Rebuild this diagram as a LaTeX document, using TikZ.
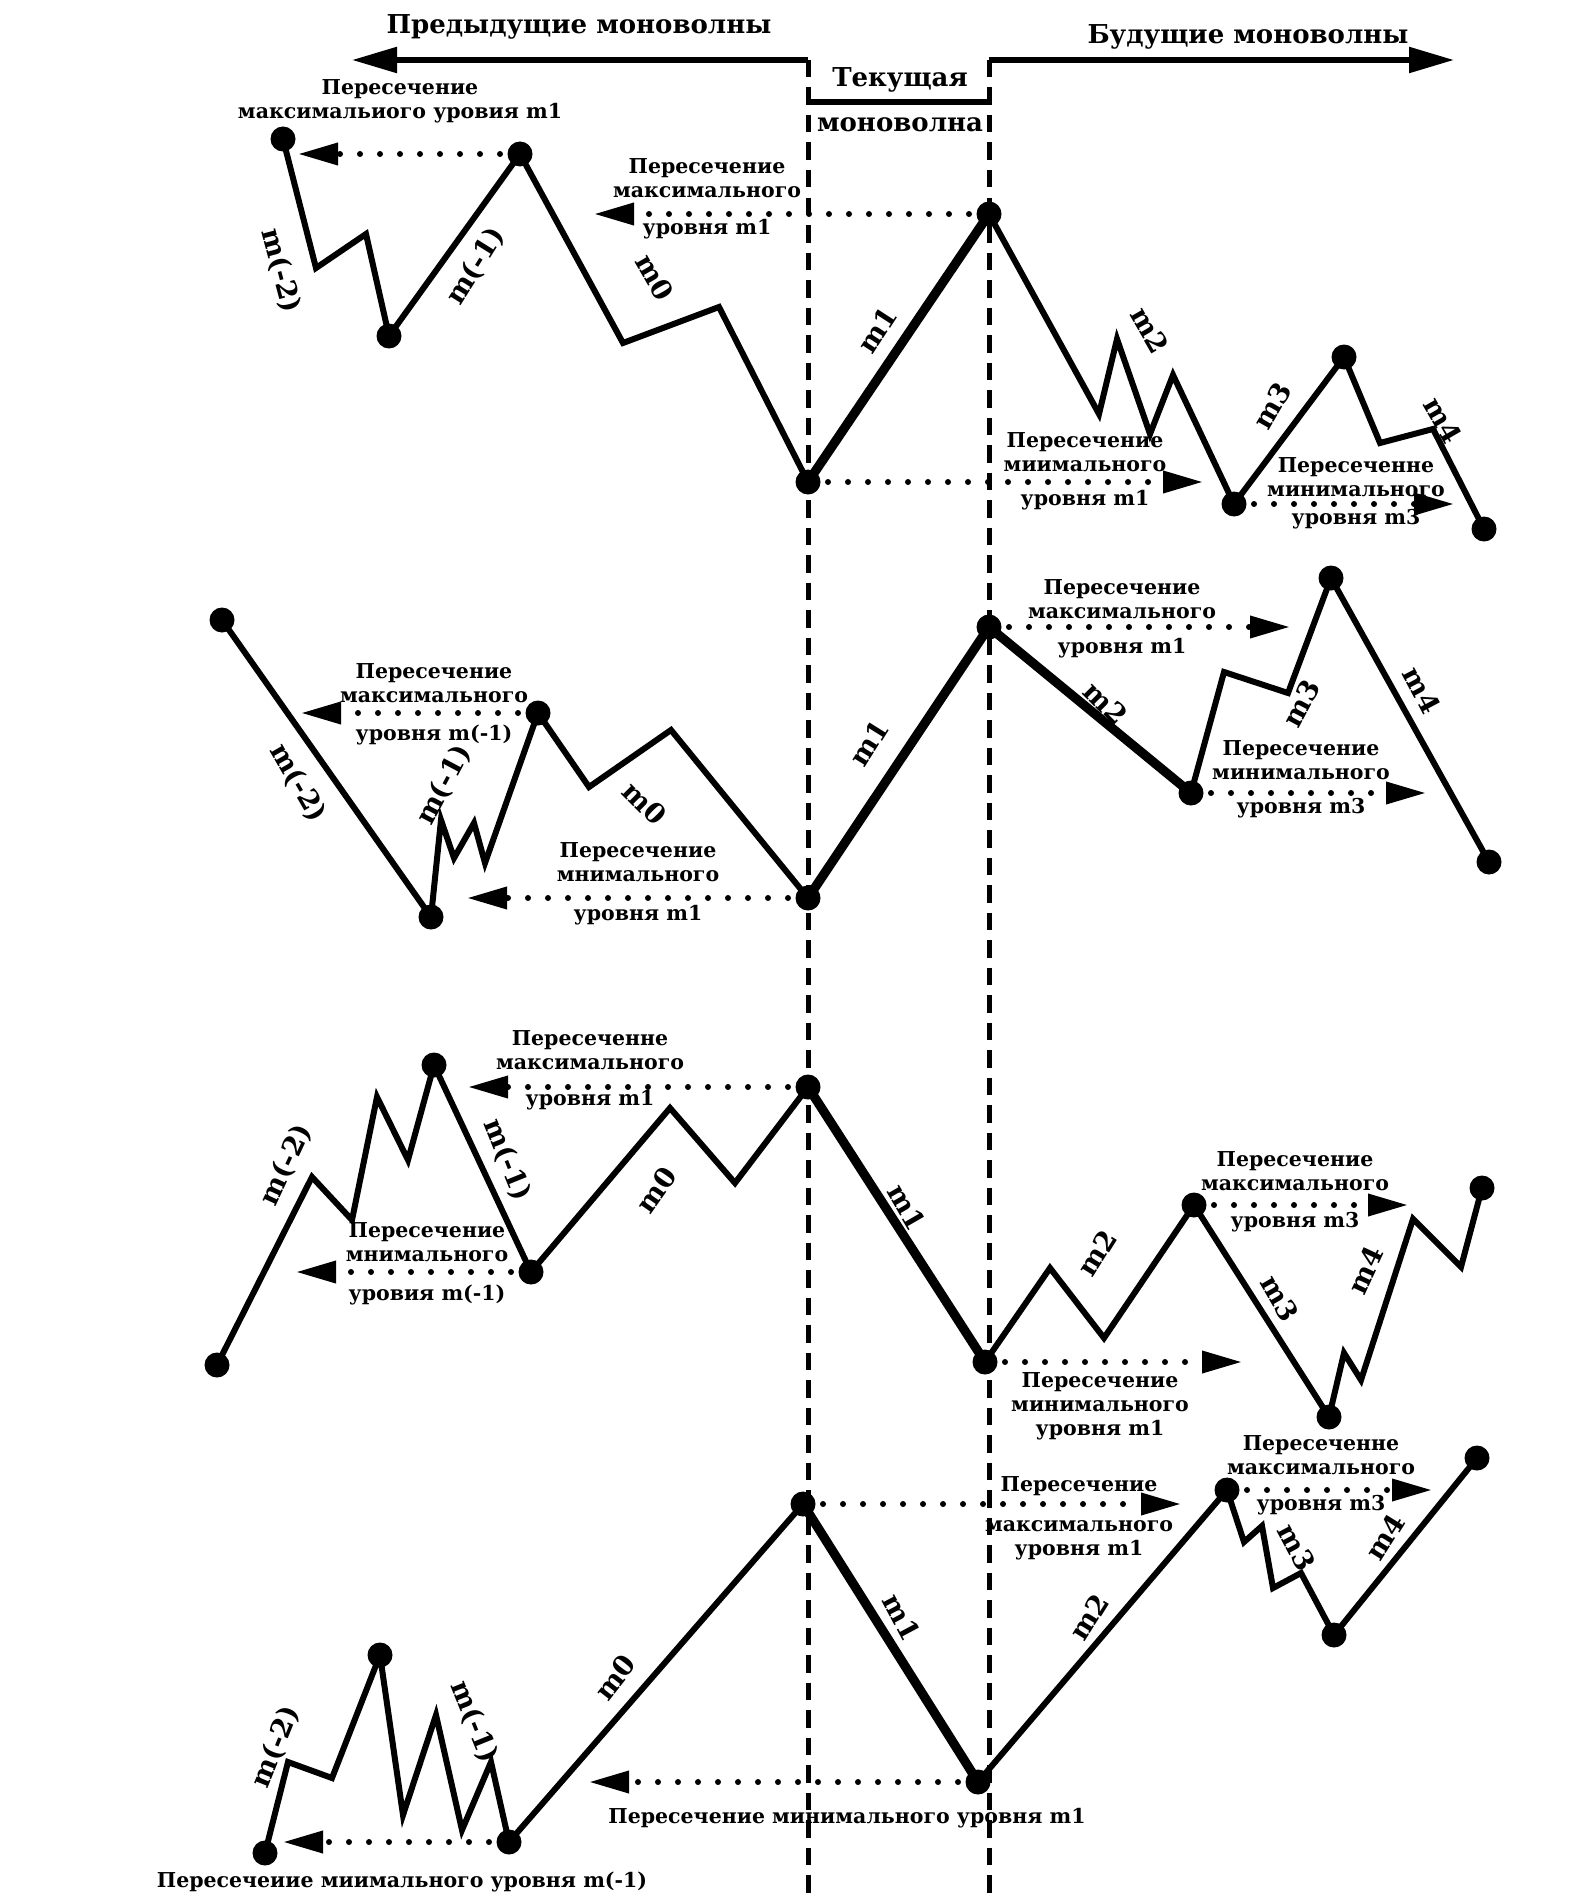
\documentclass[tikz,border=0pt]{standalone}
\usepackage{fontspec}
\setmainfont{DejaVu Serif}
\usetikzlibrary{arrows.meta}
\begin{document}
\begin{tikzpicture}[x=0.4pt,y=-0.4pt,
  wave/.style={line width=2.4pt, line join=miter},
  main/.style={line width=3.7pt, line join=miter},
  guide/.style={line width=2pt, dash pattern=on 7pt off 4pt},
  hdr/.style={line width=2.2pt, -{Triangle[length=18pt,width=10pt]}},
  lvl/.style={line width=2.4pt, dash pattern=on 0pt off 8pt, line cap=round,
              -{Triangle[length=16pt,width=8.5pt]}},
  pt/.style={circle, fill, inner sep=0pt, minimum size=10pt},
  txt/.style={font=\fontsize{8.2}{9.6}\selectfont\bfseries, align=center, inner sep=0pt},
  mlab/.style={font=\fontsize{11}{12}\selectfont\bfseries, inner sep=0pt},
  head/.style={font=\fontsize{10.4}{12.5}\selectfont\bfseries, inner sep=0pt},
]
\path[use as bounding box] (0,0) rectangle (1570,1898);

% ---------- header: directions and current monowave ----------
\coordinate (gl) at (808,60);
\coordinate (gr) at (989,60);
\coordinate (glb) at (808,1898);
\coordinate (grb) at (989,1898);
\coordinate (hl) at (352,60);
\coordinate (hr) at (1454,60);
\coordinate (bl) at (808,102);
\coordinate (br) at (989,102);
\draw[guide] (gl) -- (glb);
\draw[guide] (gr) -- (grb);
\draw[hdr] (gl) -- (hl);
\draw[hdr] (gr) -- (hr);
\draw[line width=2.2pt] (bl) -- (br);
\node[head] (hprev) at (579,27) {Предыдущие моноволны};
\node[head] (hnext) at (1248,37) {Будущие моноволны};
\node[head] (hcur1) at (900,80) {Текущая};
\node[head] (hcur2) at (900,125) {моноволна};

% ---------- panel 1 ----------
\coordinate (a1) at (283,139);
\coordinate (a2) at (316,268);
\coordinate (a3) at (366,234);
\coordinate (a4) at (389,336);
\coordinate (a5) at (520,154);
\coordinate (a6) at (623,343);
\coordinate (a7) at (719,307);
\coordinate (a8) at (808,482);
\coordinate (a9) at (989,214);
\coordinate (a10) at (1099,414);
\coordinate (a11) at (1117,339);
\coordinate (a12) at (1150,434);
\coordinate (a13) at (1173,375);
\coordinate (a14) at (1234,504);
\coordinate (a15) at (1344,357);
\coordinate (a16) at (1380,443);
\coordinate (a17) at (1433,429);
\coordinate (a18) at (1484,529);
\draw[wave] (a1) -- (a2) -- (a3) -- (a4) -- (a5) -- (a6) -- (a7) -- (a8);
\draw[main] (a8) -- (a9);
\draw[wave] (a9) -- (a10) -- (a11) -- (a12) -- (a13) -- (a14) -- (a15) -- (a16) -- (a17) -- (a18);
\coordinate (ta) at (298,154);
\coordinate (tb) at (594,214);
\coordinate (tc) at (1203,482);
\coordinate (td) at (1454,504);
\draw[lvl] (a5) -- (ta);
\draw[lvl] (a9) -- (tb);
\draw[lvl] (a8) -- (tc);
\draw[lvl] (a14) -- (td);
\node[txt] (la) at (400,101) {Пересечение\\максимальиого уровия m1};
\node[txt] (lb1) at (707,178) {Пересечение\\максимального};
\node[txt] (lb2) at (707,229) {уровня m1};
\node[txt] (lc1) at (1085,452) {Пересечение\\миимального};
\node[txt] (lc2) at (1085,500) {уровня m1};
\node[txt] (ld1) at (1356,477) {Пересеченне\\минимального};
\node[txt] (ld2) at (1356,519) {уровня m3};
\node[mlab, rotate=-75] (ma1) at (281,271) {m(-2)};
\node[mlab, rotate=58] (ma2) at (476,266) {m(-1)};
\node[mlab, rotate=-60] (ma3) at (655,277) {m0};
\node[mlab, rotate=57] (ma4) at (877,330) {m1};
\node[mlab, rotate=-60] (ma5) at (1150,330) {m2};
\node[mlab, rotate=60] (ma6) at (1272,406) {m3};
\node[mlab, rotate=-60] (ma7) at (1443,420) {m4};
\foreach \p in {a1,a4,a5,a8,a9,a14,a15,a18} \node[pt] (n\p) at (\p) {};

% ---------- panel 2 ----------
\coordinate (b1) at (222,620);
\coordinate (b2) at (431,917);
\coordinate (b3) at (441,820);
\coordinate (b4) at (454,858);
\coordinate (b5) at (474,823);
\coordinate (b6) at (485,863);
\coordinate (b7) at (538,713);
\coordinate (b8) at (589,787);
\coordinate (b9) at (671,730);
\coordinate (b10) at (808,898);
\coordinate (b11) at (989,627);
\coordinate (b12) at (1191,793);
\coordinate (b13) at (1224,672);
\coordinate (b14) at (1288,693);
\coordinate (b15) at (1331,578);
\coordinate (b16) at (1489,862);
\draw[wave] (b1) -- (b2) -- (b3) -- (b4) -- (b5) -- (b6) -- (b7) -- (b8) -- (b9) -- (b10);
\draw[main] (b10) -- (b11) -- (b12);
\draw[wave] (b12) -- (b13) -- (b14) -- (b15) -- (b16);
\coordinate (te) at (301,713);
\coordinate (tf) at (467,898);
\coordinate (tg) at (1290,627);
\coordinate (th) at (1426,793);
\draw[lvl] (b7) -- (te);
\draw[lvl] (b10) -- (tf);
\draw[lvl] (b11) -- (tg);
\draw[lvl] (b12) -- (th);
\node[txt] (le1) at (434,683) {Пересечение\\максимального};
\node[txt] (le2) at (434,735) {уровня m(-1)};
\node[txt] (lf1) at (638,862) {Пересечение\\мнимального};
\node[txt] (lf2) at (638,915) {уровня m1};
\node[txt] (lg1) at (1122,599) {Пересечение\\максимального};
\node[txt] (lg2) at (1122,648) {уровня m1};
\node[txt] (lh1) at (1301,760) {Пересечение\\минимального};
\node[txt] (lh2) at (1301,808) {уровня m3};
\node[mlab, rotate=-60] (mb1) at (298,783) {m(-2)};
\node[mlab, rotate=62] (mb2) at (444,785) {m(-1)};
\node[mlab, rotate=-45] (mb3) at (645,803) {m0};
\node[mlab, rotate=58] (mb4) at (869,743) {m1};
\node[mlab, rotate=-45] (mb5) at (1106,703) {m2};
\node[mlab, rotate=62] (mb6) at (1301,703) {m3};
\node[mlab, rotate=-62] (mb7) at (1422,690) {m4};
\foreach \p in {b1,b2,b7,b10,b11,b12,b15,b16} \node[pt] (n\p) at (\p) {};

% ---------- panel 3 ----------
\coordinate (c1) at (217,1365);
\coordinate (c2) at (312,1177);
\coordinate (c3) at (352,1220);
\coordinate (c4) at (377,1097);
\coordinate (c5) at (408,1160);
\coordinate (c6) at (434,1065);
\coordinate (c7) at (531,1272);
\coordinate (c8) at (670,1108);
\coordinate (c9) at (735,1183);
\coordinate (c10) at (808,1087);
\coordinate (c11) at (985,1362);
\coordinate (c12) at (1050,1268);
\coordinate (c13) at (1104,1338);
\coordinate (c14) at (1194,1205);
\coordinate (c15) at (1329,1417);
\coordinate (c16) at (1344,1353);
\coordinate (c17) at (1361,1380);
\coordinate (c18) at (1413,1219);
\coordinate (c19) at (1461,1267);
\coordinate (c20) at (1482,1188);
\draw[wave] (c1) -- (c2) -- (c3) -- (c4) -- (c5) -- (c6) -- (c7) -- (c8) -- (c9) -- (c10);
\draw[main] (c10) -- (c11);
\draw[wave] (c11) -- (c12) -- (c13) -- (c14) -- (c15) -- (c16) -- (c17) -- (c18) -- (c19) -- (c20);
\coordinate (ti) at (468,1087);
\coordinate (tj) at (296,1272);
\coordinate (tk) at (1242,1362);
\coordinate (tl) at (1408,1205);
\draw[lvl] (c10) -- (ti);
\draw[lvl] (c7) -- (tj);
\draw[lvl] (c11) -- (tk);
\draw[lvl] (c14) -- (tl);
\node[txt] (li1) at (590,1050) {Пересеченне\\максимального};
\node[txt] (li2) at (590,1100) {уровня m1};
\node[txt] (lj1) at (427,1242) {Пересечение\\мнимального};
\node[txt] (lj2) at (427,1295) {уровия m(-1)};
\node[txt] (lk) at (1100,1406) {Пересечение\\минимального\\уровня m1};
\node[txt] (ll1) at (1295,1171) {Пересечение\\максимального};
\node[txt] (ll2) at (1295,1222) {уровня m3};
\node[mlab, rotate=65] (mc1) at (286,1165) {m(-2)};
\node[mlab, rotate=-68] (mc2) at (507,1160) {m(-1)};
\node[mlab, rotate=55] (mc3) at (656,1190) {m0};
\node[mlab, rotate=-60] (mc4) at (907,1207) {m1};
\node[mlab, rotate=58] (mc5) at (1097,1253) {m2};
\node[mlab, rotate=-60] (mc6) at (1280,1298) {m3};
\node[mlab, rotate=65] (mc7) at (1365,1270) {m4};
\foreach \p in {c1,c6,c7,c10,c11,c14,c15,c20} \node[pt] (n\p) at (\p) {};

% ---------- panel 4 ----------
\coordinate (d1) at (265,1853);
\coordinate (d2) at (288,1762);
\coordinate (d3) at (332,1778);
\coordinate (d4) at (380,1655);
\coordinate (d5) at (403,1815);
\coordinate (d6) at (436,1715);
\coordinate (d7) at (462,1830);
\coordinate (d8) at (491,1762);
\coordinate (d9) at (509,1842);
\coordinate (d10) at (803,1504);
\coordinate (d11) at (978,1782);
\coordinate (d12) at (1227,1490);
\coordinate (d13) at (1244,1542);
\coordinate (d14) at (1262,1526);
\coordinate (d15) at (1273,1588);
\coordinate (d16) at (1301,1573);
\coordinate (d17) at (1334,1635);
\coordinate (d18) at (1477,1458);
\draw[wave] (d1) -- (d2) -- (d3) -- (d4) -- (d5) -- (d6) -- (d7) -- (d8) -- (d9) -- (d10);
\draw[main] (d10) -- (d11);
\draw[wave] (d11) -- (d12) -- (d13) -- (d14) -- (d15) -- (d16) -- (d17) -- (d18);
\coordinate (tm) at (283,1842);
\coordinate (tn) at (589,1782);
\coordinate (to) at (1181,1504);
\coordinate (tp) at (1432,1490);
\draw[lvl] (d9) -- (tm);
\draw[lvl] (d11) -- (tn);
\draw[lvl] (d10) -- (to);
\draw[lvl] (d12) -- (tp);
\node[txt] (lm) at (402,1882) {Пересечеиие миимального уровня m(-1)};
\node[txt] (ln) at (847,1818) {Пересечение минимального уровня m1};
\node[txt] (lo1) at (1079,1486) {Пересечение};
\node[txt] (lo2) at (1079,1540) {максимального\\уровня m1};
\node[txt] (lp1) at (1321,1455) {Пересеченне\\максимального};
\node[txt] (lp2) at (1321,1505) {уровня m3};
\node[mlab, rotate=68] (md1) at (276,1747) {m(-2)};
\node[mlab, rotate=-68] (md2) at (474,1722) {m(-1)};
\node[mlab, rotate=52] (md3) at (615,1677) {m0};
\node[mlab, rotate=-62] (md4) at (902,1617) {m1};
\node[mlab, rotate=58] (md5) at (1089,1617) {m2};
\node[mlab, rotate=-62] (md6) at (1297,1547) {m3};
\node[mlab, rotate=58] (md7) at (1385,1537) {m4};
\foreach \p in {d1,d4,d9,d10,d11,d12,d17,d18} \node[pt] (n\p) at (\p) {};
\end{tikzpicture}
\end{document}
